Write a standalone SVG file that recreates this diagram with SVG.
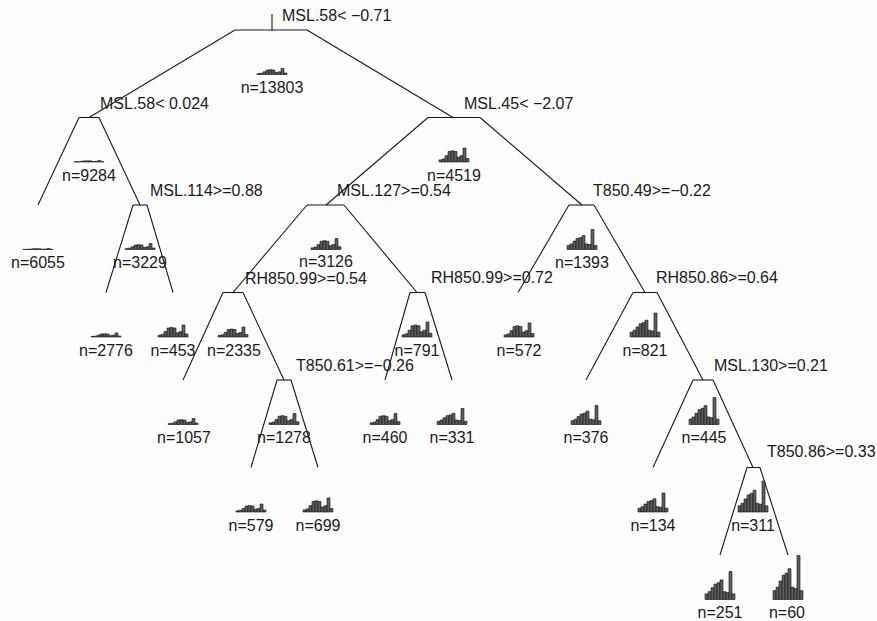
<svg xmlns="http://www.w3.org/2000/svg" xmlns:xlink="http://www.w3.org/1999/xlink" width="877" height="621" viewBox="0 0 877 621">
<style>
text{font-family:"Liberation Sans",Arial,Helvetica,sans-serif;font-size:16px;fill:#1a1a1a}
.n{text-anchor:middle}
.s{text-anchor:start}
line,.sh{stroke:#1a1a1a;stroke-width:1.1;fill:none}
.bar{fill:#5e5e5e;stroke:#111;stroke-width:0.6}
</style>
<defs>
<g id="hQ">
<rect class="bar" vector-effect="non-scaling-stroke" x="0" y="-0.15" width="3" height="0.15"/>
<rect class="bar" vector-effect="non-scaling-stroke" x="3" y="-0.22" width="3" height="0.22"/>
<rect class="bar" vector-effect="non-scaling-stroke" x="6" y="-0.45" width="3" height="0.45"/>
<rect class="bar" vector-effect="non-scaling-stroke" x="9" y="-0.75" width="3" height="0.75"/>
<rect class="bar" vector-effect="non-scaling-stroke" x="12" y="-0.8" width="3" height="0.8"/>
<rect class="bar" vector-effect="non-scaling-stroke" x="15" y="-0.75" width="3" height="0.75"/>
<rect class="bar" vector-effect="non-scaling-stroke" x="18" y="-0.35" width="3" height="0.35"/>
<rect class="bar" vector-effect="non-scaling-stroke" x="21" y="-0.45" width="3" height="0.45"/>
<rect class="bar" vector-effect="non-scaling-stroke" x="24" y="-1" width="3" height="1"/>
<rect class="bar" vector-effect="non-scaling-stroke" x="27" y="-0.25" width="3" height="0.25"/>
</g>
<g id="hP">
<rect class="bar" vector-effect="non-scaling-stroke" x="0" y="-0.2" width="3" height="0.2"/>
<rect class="bar" vector-effect="non-scaling-stroke" x="3" y="-0.28" width="3" height="0.28"/>
<rect class="bar" vector-effect="non-scaling-stroke" x="6" y="-0.42" width="3" height="0.42"/>
<rect class="bar" vector-effect="non-scaling-stroke" x="9" y="-0.55" width="3" height="0.55"/>
<rect class="bar" vector-effect="non-scaling-stroke" x="12" y="-0.6" width="3" height="0.6"/>
<rect class="bar" vector-effect="non-scaling-stroke" x="15" y="-0.7" width="3" height="0.7"/>
<rect class="bar" vector-effect="non-scaling-stroke" x="18" y="-0.28" width="3" height="0.28"/>
<rect class="bar" vector-effect="non-scaling-stroke" x="21" y="-0.25" width="3" height="0.25"/>
<rect class="bar" vector-effect="non-scaling-stroke" x="24" y="-1" width="3" height="1"/>
<rect class="bar" vector-effect="non-scaling-stroke" x="27" y="-0.2" width="3" height="0.2"/>
</g>
</defs>
<rect width="877" height="621" fill="#fdfdfd"/>

<g id="connectors">
<line x1="235" y1="30" x2="89" y2="117.5"/>
<line x1="307" y1="30" x2="453" y2="117.5"/>
<line x1="79" y1="117.5" x2="38" y2="205"/>
<line x1="99" y1="117.5" x2="140" y2="205"/>
<line x1="133" y1="205" x2="106" y2="292.5"/>
<line x1="147" y1="205" x2="173" y2="292.5"/>
<line x1="428" y1="117.5" x2="326" y2="205"/>
<line x1="480" y1="117.5" x2="582" y2="205"/>
<line x1="307" y1="205" x2="233" y2="292.5"/>
<line x1="344" y1="205" x2="417" y2="292.5"/>
<line x1="569" y1="205" x2="518" y2="292.5"/>
<line x1="594" y1="205" x2="645" y2="292.5"/>
<line x1="223" y1="292.5" x2="183" y2="380"/>
<line x1="243" y1="292.5" x2="284" y2="380"/>
<line x1="410" y1="292.5" x2="385" y2="380"/>
<line x1="425" y1="292.5" x2="452" y2="380"/>
<line x1="633" y1="292.5" x2="586" y2="380"/>
<line x1="657" y1="292.5" x2="703" y2="380"/>
<line x1="277" y1="380" x2="251" y2="467.5"/>
<line x1="291" y1="380" x2="318" y2="467.5"/>
<line x1="693" y1="380" x2="653" y2="467.5"/>
<line x1="713" y1="380" x2="753" y2="467.5"/>
<line x1="747" y1="467.5" x2="720" y2="555"/>
<line x1="760" y1="467.5" x2="788" y2="555"/>
</g>

<g id="node-root">
<line x1="272" y1="14" x2="272" y2="30"/>
<line x1="235" y1="30" x2="307" y2="30"/>
<text class="s" x="282" y="21">MSL.58&lt; −0.71</text>
<use href="#hQ" transform="translate(257,74.5) scale(1,6)"/>
<text class="n" x="272" y="93">n=13803</text>
</g>

<g id="node-msl58">
<line x1="79" y1="117.5" x2="99" y2="117.5"/>
<text class="s" x="100" y="109">MSL.58&lt; 0.024</text>
<use href="#hQ" transform="translate(74,162) scale(1,1.5)"/>
<text class="n" x="89" y="181">n=9284</text>
</g>

<g id="leaf-6055">
<use href="#hQ" transform="translate(23,249.5) scale(1,1)"/>
<text class="n" x="38" y="268">n=6055</text>
</g>

<g id="node-msl114">
<line x1="133" y1="205" x2="147" y2="205"/>
<text class="s" x="150" y="196">MSL.114&gt;=0.88</text>
<use href="#hQ" transform="translate(125,249.5) scale(1,6)"/>
<text class="n" x="140" y="268">n=3229</text>
</g>

<g id="leaf-2776">
<use href="#hQ" transform="translate(91,337) scale(1,4)"/>
<text class="n" x="106" y="355.5">n=2776</text>
</g>

<g id="leaf-453">
<use href="#hQ" transform="translate(158,337) scale(1,12)"/>
<text class="n" x="173" y="355.5">n=453</text>
</g>

<g id="node-msl45">
<line x1="428" y1="117.5" x2="480" y2="117.5"/>
<text class="s" x="464" y="109">MSL.45&lt; −2.07</text>
<use href="#hQ" transform="translate(439,162) scale(1,14)"/>
<text class="n" x="454" y="181">n=4519</text>
</g>

<g id="node-msl127">
<line x1="307" y1="205" x2="344" y2="205"/>
<text class="s" x="337" y="196">MSL.127&gt;=0.54</text>
<use href="#hQ" transform="translate(311,249.5) scale(1,11)"/>
<text class="n" x="326" y="267">n=3126</text>
</g>

<g id="node-rh850-054">
<line x1="223" y1="292.5" x2="243" y2="292.5"/>
<text class="s" x="245" y="284">RH850.99&gt;=0.54</text>
<use href="#hQ" transform="translate(218,337) scale(1,10)"/>
<text class="n" x="234" y="355.5">n=2335</text>
</g>

<g id="leaf-1057">
<use href="#hQ" transform="translate(168,424.5) scale(1,6)"/>
<text class="n" x="184" y="443">n=1057</text>
</g>

<g id="node-t850-61">
<line x1="277" y1="380" x2="291" y2="380"/>
<text class="s" x="296" y="371">T850.61&gt;=−0.26</text>
<use href="#hQ" transform="translate(269,424.5) scale(1,11)"/>
<text class="n" x="284" y="443">n=1278</text>
</g>

<g id="leaf-579">
<use href="#hQ" transform="translate(236,512) scale(1,8)"/>
<text class="n" x="251" y="530.5">n=579</text>
</g>

<g id="leaf-699">
<use href="#hQ" transform="translate(303,512) scale(1,14)"/>
<text class="n" x="318" y="530.5">n=699</text>
</g>

<g id="node-rh850-072">
<line x1="410" y1="292.5" x2="425" y2="292.5"/>
<text class="s" x="431" y="283">RH850.99&gt;=0.72</text>
<use href="#hQ" transform="translate(402,337) scale(1,15)"/>
<text class="n" x="417" y="355.5">n=791</text>
</g>

<g id="leaf-460">
<use href="#hQ" transform="translate(370,424.5) scale(1,11)"/>
<text class="n" x="385" y="443">n=460</text>
</g>

<g id="leaf-331">
<use href="#hP" transform="translate(437,424.5) scale(1,16)"/>
<text class="n" x="452" y="443">n=331</text>
</g>

<g id="node-t850-49">
<line x1="569" y1="205" x2="594" y2="205"/>
<text class="s" x="593" y="196">T850.49&gt;=−0.22</text>
<use href="#hP" transform="translate(567,249.5) scale(1,20)"/>
<text class="n" x="582" y="268">n=1393</text>
</g>

<g id="leaf-572">
<use href="#hQ" transform="translate(504,337) scale(1,14)"/>
<text class="n" x="519" y="355.5">n=572</text>
</g>

<g id="node-rh850-86">
<line x1="633" y1="292.5" x2="657" y2="292.5"/>
<text class="s" x="656" y="283">RH850.86&gt;=0.64</text>
<use href="#hP" transform="translate(630,337) scale(1,24)"/>
<text class="n" x="645" y="355.5">n=821</text>
</g>

<g id="leaf-376">
<use href="#hP" transform="translate(571,424.5) scale(1,19)"/>
<text class="n" x="586" y="443">n=376</text>
</g>

<g id="node-msl130">
<line x1="693" y1="380" x2="713" y2="380"/>
<text class="s" x="714" y="371">MSL.130&gt;=0.21</text>
<use href="#hP" transform="translate(689,424.5) scale(1,27)"/>
<text class="n" x="704" y="443">n=445</text>
</g>

<g id="leaf-134">
<use href="#hP" transform="translate(638,512) scale(1,19)"/>
<text class="n" x="653" y="530.5">n=134</text>
</g>

<g id="node-t850-86">
<line x1="747" y1="467.5" x2="760" y2="467.5"/>
<text class="s" x="767" y="457">T850.86&gt;=0.33</text>
<use href="#hP" transform="translate(738,512) scale(1,31)"/>
<text class="n" x="753" y="530.5">n=311</text>
</g>

<g id="leaf-251">
<use href="#hP" transform="translate(705,599.5) scale(1,28)"/>
<text class="n" x="720" y="618">n=251</text>
</g>

<g id="leaf-60">
<use href="#hP" transform="translate(773,599.5) scale(1,44)"/>
<text class="n" x="787" y="618">n=60</text>
</g>
</svg>
